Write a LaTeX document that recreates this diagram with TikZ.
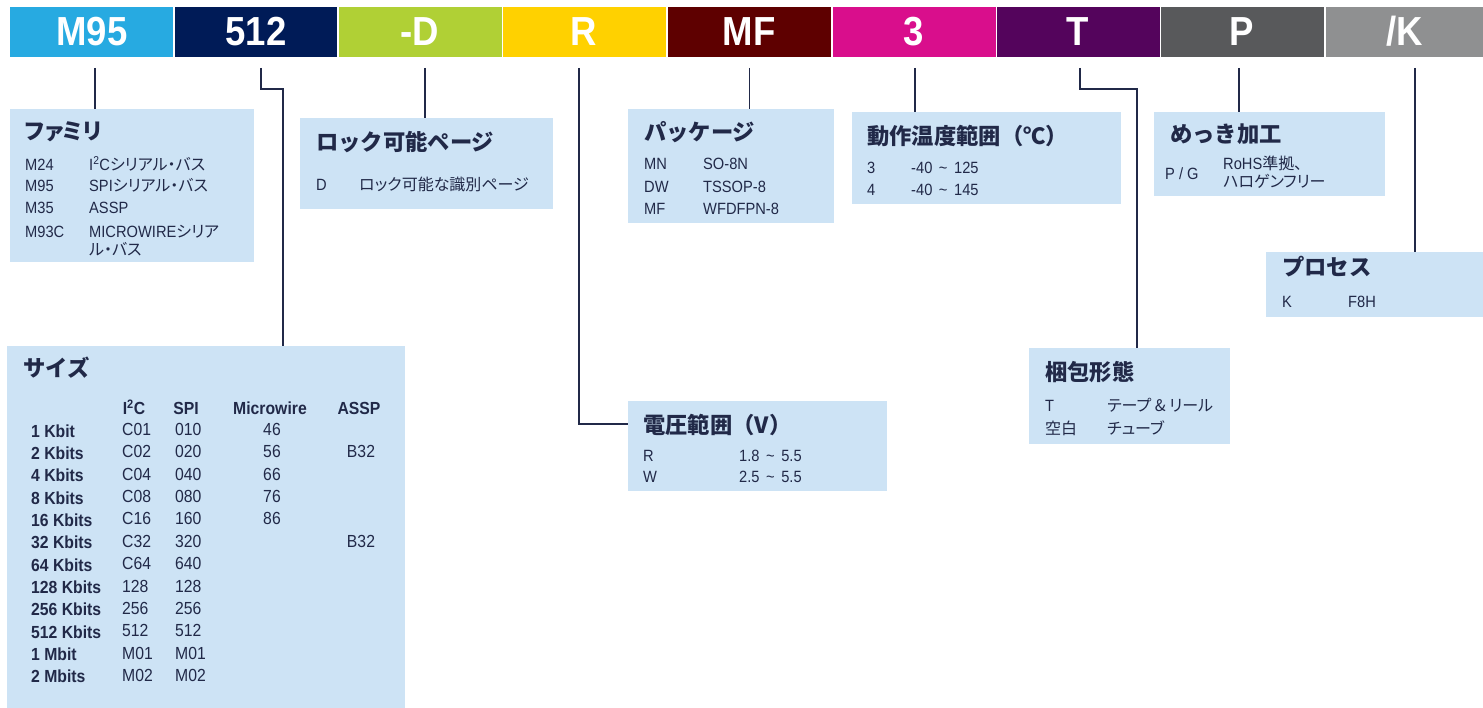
\documentclass[tikz,border=0pt]{standalone}
\usepackage{fontspec}
\setmainfont{Liberation Sans}[FakeStretch=0.9]
\newfontfamily\jp{Noto Sans CJK JP}
\newfontfamily\jpp{Noto Sans CJK JP}[RawFeature=+palt]
\newcommand\jtext[1]{{\jpp\fontsize{16}{17}\selectfont #1}}
\newcommand\tld{\hspace{2.5pt} \textasciitilde{} \hspace{2.5pt}}
\definecolor{ink}{RGB}{33,41,72}
\definecolor{boxfill}{RGB}{205,227,245}
\definecolor{cA}{RGB}{39,170,225}
\definecolor{cB}{RGB}{0,27,87}
\definecolor{cC}{RGB}{176,208,53}
\definecolor{cD}{RGB}{255,209,0}
\definecolor{cE}{RGB}{94,0,0}
\definecolor{cF}{RGB}{217,14,140}
\definecolor{cG}{RGB}{84,4,92}
\definecolor{cH}{RGB}{88,89,91}
\definecolor{cI}{RGB}{143,144,145}
\tikzset{
  box/.style={rectangle, fill=boxfill, draw=none, inner sep=0pt, outer sep=0pt, anchor=north west},
  seg/.style={rectangle, draw=none, inner sep=0pt, outer sep=0pt, anchor=north west, minimum height=50pt},
  segtxt/.style={anchor=base, inner sep=0pt, text=white, font=\fontsize{40.6}{41}\selectfont\bfseries},
  ttl/.style={anchor=base west, inner sep=0pt, text=ink, font=\jp\bfseries\fontsize{22.3}{23}\selectfont},
  ttlp/.style={ttl, font=\jpp\bfseries\fontsize{22.3}{23}\selectfont},
  txt/.style={anchor=base west, inner sep=0pt, text=ink, font=\fontsize{16.3}{17}\selectfont},
  jtxt/.style={anchor=base west, inner sep=0pt, text=ink, font=\jpp\fontsize{16}{17}\selectfont},
  tlab/.style={anchor=base west, inner sep=0pt, text=ink, font=\fontsize{17.5}{18}\selectfont\bfseries},
  thead/.style={anchor=base, inner sep=0pt, text=ink, font=\fontsize{17.5}{18}\selectfont\bfseries},
  tval/.style={anchor=base west, inner sep=0pt, text=ink, font=\fontsize{17.5}{18}\selectfont},
  tvalc/.style={anchor=base, inner sep=0pt, text=ink, font=\fontsize{17.5}{18}\selectfont},
  conn/.style={draw=ink, line width=1.2pt},
}
\begin{document}
\begin{tikzpicture}[x=1pt,y=-1pt]
\useasboundingbox (0,0) rectangle (1483,708);
% ---------- top bar ----------
\node[seg, fill=cA, minimum width=163pt] (s1) at (10,7) {};
\node[seg, fill=cB, minimum width=162pt] (s2) at (175,7) {};
\node[seg, fill=cC, minimum width=163pt] (s3) at (339,7) {};
\node[seg, fill=cD, minimum width=163pt] (s4) at (503,7) {};
\node[seg, fill=cE, minimum width=163pt] (s5) at (668,7) {};
\node[seg, fill=cF, minimum width=163pt] (s6) at (833,7) {};
\node[seg, fill=cG, minimum width=163pt] (s7) at (997,7) {};
\node[seg, fill=cH, minimum width=163pt] (s8) at (1161,7) {};
\node[seg, fill=cI, minimum width=157pt] (s9) at (1326,7) {};
\node[segtxt] (l1) at (92,46) {M95};
\node[segtxt] (l2) at (256,46) {512};
\node[segtxt] (l3) at (420,46) {-D};
\node[segtxt] (l4) at (584,46) {R};
\node[segtxt] (l5) at (749,46) {MF};
\node[segtxt] (l6) at (914,46) {3};
\node[segtxt] (l7) at (1078,46) {T};
\node[segtxt] (l8) at (1242,46) {P};
\node[segtxt] (l9) at (1405,46) {/K};
% ---------- boxes ----------
\node[box, minimum width=244pt, minimum height=153pt] (fam) at (10,109) {};
\node[box, minimum width=253pt, minimum height=91pt] (lock) at (300,118) {};
\node[box, minimum width=206pt, minimum height=114pt] (pkg) at (628,109) {};
\node[box, minimum width=269pt, minimum height=92pt] (temp) at (852,112) {};
\node[box, minimum width=231pt, minimum height=84pt] (plat) at (1154,112) {};
\node[box, minimum width=217pt, minimum height=65pt] (proc) at (1266,252) {};
\node[box, minimum width=201pt, minimum height=96pt] (pack) at (1029,348) {};
\node[box, minimum width=259pt, minimum height=90pt] (volt) at (628,401) {};
\node[box, minimum width=398pt, minimum height=363pt] (size) at (7,346) {};
% ---------- connectors ----------
\coordinate (t1) at (95,68);
\coordinate (t2) at (261,68);
\coordinate (k2) at (283,89);
\coordinate (t3) at (425,68);
\coordinate (t4) at (579,68);
\coordinate (k4) at (579,424);
\coordinate (t5) at (749.5,68);
\coordinate (t6) at (915,68);
\coordinate (t7) at (1080,68);
\coordinate (k7) at (1137,89);
\coordinate (t8) at (1239,68);
\coordinate (t9) at (1415,68);
\draw[conn] (t1) -- (t1 |- fam.north);
\draw[conn] (t2) |- (k2) -- (k2 |- size.north);
\draw[conn] (t3) -- (t3 |- lock.north);
\draw[conn] (t4) -- (k4) -- (k4 -| volt.west);
\draw[conn] (t5) -- (t5 |- pkg.north);
\draw[conn] (t6) -- (t6 |- temp.north);
\draw[conn] (t7) |- (k7) -- (k7 |- pack.north);
\draw[conn] (t8) -- (t8 |- plat.north);
\draw[conn] (t9) -- (t9 |- proc.north);
% ---------- family ----------
\node[ttlp] (famT) at (25,140) {ファミリ};
\node[txt] (fa1) at (25,170.5) {M24};
\node[txt] (fb1) at (89,170.5) {I\textsuperscript{2}C\jtext{シリアル・バス}};
\node[txt] (fa2) at (25,192) {M95};
\node[txt] (fb2) at (89,192) {SPI\jtext{シリアル・バス}};
\node[txt] (fa3) at (25,214) {M35};
\node[txt] (fb3) at (89,214) {ASSP};
\node[txt] (fa4) at (25,237.5) {M93C};
\node[txt] (fb4) at (89,237.5) {MICROWIRE\jtext{シリア}};
\node[jtxt] (fb5) at (89,256) {ル・バス};
% ---------- lock page ----------
\node[ttl] (lockT) at (316,151) {ロック可能ページ};
\node[txt] (lo1) at (316,190.5) {D};
\node[jtxt] (lo2) at (359,190.5) {ロック可能な識別ページ};
% ---------- package ----------
\node[ttl] (pkgT) at (644,141) {パッケージ};
\node[txt] (pa1) at (644,170) {MN};
\node[txt] (pb1) at (703,170) {SO-8N};
\node[txt] (pa2) at (644,192.5) {DW};
\node[txt] (pb2) at (703,192.5) {TSSOP-8};
\node[txt] (pa3) at (644,214.5) {MF};
\node[txt] (pb3) at (703,214.5) {WFDFPN-8};
% ---------- temperature ----------
\node[ttl] (tempT) at (867,145) {動作温度範囲（℃）};
\node[txt] (ta1) at (867,173.5) {3};
\node[txt] (tb1) at (911,173.5) {-40\tld 125};
\node[txt] (ta2) at (867,196) {4};
\node[txt] (tb2) at (911,196) {-40\tld 145};
% ---------- plating ----------
\node[ttl] (platT) at (1170,143) {めっき加工};
\node[txt] (pl1) at (1165,180) {P / G};
\node[txt] (pl2) at (1223,170) {RoHS\jtext{準拠、}};
\node[jtxt] (pl3) at (1223,188) {ハロゲンフリー};
% ---------- process ----------
\node[ttl] (procT) at (1282,276) {プロセス};
\node[txt] (pr1) at (1282,307.5) {K};
\node[txt] (pr2) at (1348,307.5) {F8H};
% ---------- packing ----------
\node[ttl] (packT) at (1045,381) {梱包形態};
\node[txt] (pk1) at (1045,411.5) {T};
\node[jtxt] (pk2) at (1107,411.5) {テープ \&{} リール};
\node[jtxt] (pk3) at (1045,434.5) {空白};
\node[jtxt] (pk4) at (1107,434.5) {チューブ};
% ---------- voltage ----------
\node[ttl] (voltT) at (643,433) {電圧範囲（V）};
\node[txt] (vo1) at (643,461) {R};
\node[txt] (vo2) at (739,461) {1.8\tld 5.5};
\node[txt] (vo3) at (643,482) {W};
\node[txt] (vo4) at (739,482) {2.5\tld 5.5};
% ---------- size ----------
\node[ttl] (sizeT) at (23,377) {サイズ};
\node[thead] (h1) at (134,414.5) {I\textsuperscript{2}C};
\node[thead] (h2) at (186,414.5) {SPI};
\node[thead] (h3) at (270,414.5) {Microwire};
\node[thead] (h4) at (359,414.5) {ASSP};
\foreach \lab/\a/\b [count=\i from 0] in {1 Kbit/C01/010, 2 Kbits/C02/020, 4 Kbits/C04/040, 8 Kbits/C08/080, 16 Kbits/C16/160, 32 Kbits/C32/320, 64 Kbits/C64/640, 128 Kbits/128/128, 256 Kbits/256/256, 512 Kbits/512/512, 1 Mbit/M01/M01, 2 Mbits/M02/M02} {
  \node[tlab] (rl\i) at (31,{437+22.36*\i}) {\lab};
  \node[tval] (ra\i) at (122,{435.5+22.36*\i}) {\a};
  \node[tval] (rb\i) at (175,{435.5+22.36*\i}) {\b};
}
\foreach \v [count=\i from 0] in {46,56,66,76,86} {
  \node[tvalc] (mw\i) at (272,{435.5+22.36*\i}) {\v};
}
\node[tvalc] (as1) at (361,{435.5+22.36}) {B32};
\node[tvalc] (as2) at (361,{435.5+22.36*5}) {B32};
\end{tikzpicture}
\end{document}
